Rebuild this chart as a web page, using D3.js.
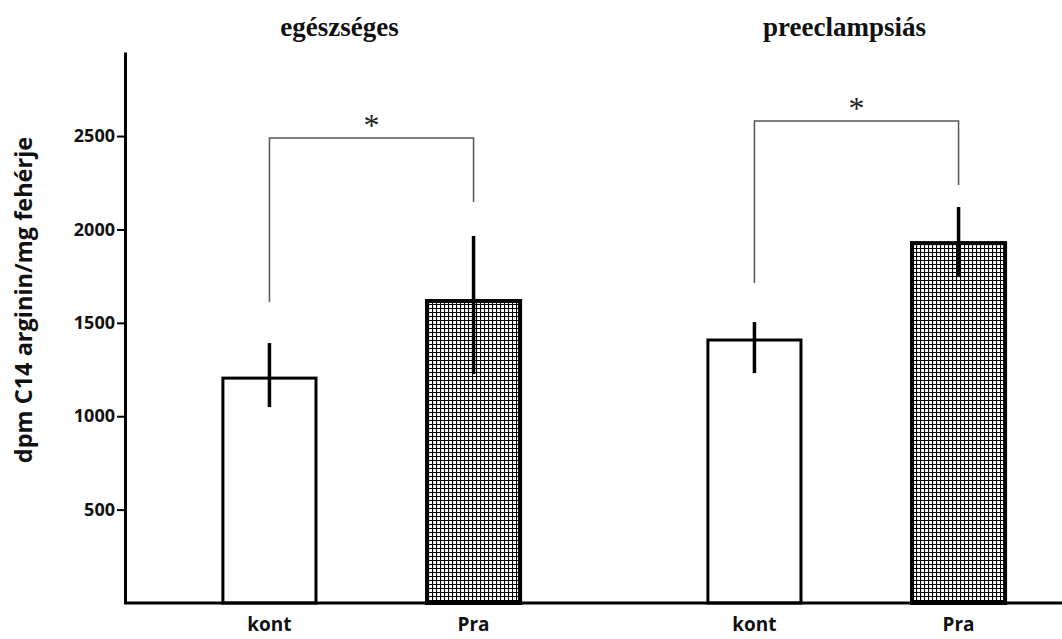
<!DOCTYPE html>
<html>
<head>
<meta charset="utf-8">
<script src="https://cdn.jsdelivr.net/npm/d3@7"></script>
<style>
  body { margin: 0; background: #fff; }
  #plot { width: 1062px; height: 639px; }
  .tick text { font-family: "Open Sans", sans-serif; font-weight: bold; font-size: 18px; fill: #111; }
  .cat-label { font-family: "Open Sans", sans-serif; font-weight: bold; font-size: 19px; fill: #111; }
  .axis-label { font-family: "Open Sans", sans-serif; font-weight: bold; font-size: 23.5px; fill: #111; }
  .group-title { font-family: "Liberation Serif", "Times New Roman", serif; font-weight: bold; font-size: 27px; fill: #111; }
  .star { font-family: "Liberation Serif", serif; font-size: 32px; fill: #222; }
</style>
</head>
<body>
<div id="plot"></div>
<script>
// data
const groups = ["egészséges", "preeclampsiás"];
const conditions = ["kont", "Pra"];
const means    = [1204, 1617, 1408, 1927];
const errHigh  = [1392, 1965, 1504, 2120];
const errLow   = [1049, 1226, 1231, 1745];
// significance brackets, one per group
const bracketTop   = [2489, 2580];
const bracketLeft  = [1611, 1713];   // lower end over "kont"
const bracketRight = [2147, 2238];   // lower end over "Pra"
const yTicks = [500, 1000, 1500, 2000, 2500];

const margin = { top: 52, right: 0, bottom: 36, left: 125 };
const width = 1062, height = 639;

const svg = d3.select('#plot').append('svg')
  .attr('width', width)
  .attr('height', height);

// hatched fill for the Pra bars
const pat = svg.append('defs').append('pattern')
  .attr('id', 'grid')
  .attr('width', 4).attr('height', 4)
  .attr('patternUnits', 'userSpaceOnUse');
pat.append('rect').attr('width', 4).attr('height', 4).attr('fill', '#fff');
pat.append('path')
  .attr('d', 'M0 0.5H4M0.5 0V4')
  .attr('stroke', '#000')
  .attr('stroke-width', 1.2);

const y = d3.scaleLinear().domain([0, 2950]).range([height - margin.bottom, margin.top]);

const xGroup = d3.scaleBand().domain(groups).range([129, 1099]);
const xSub = d3.scaleBand().domain(conditions).range([0, xGroup.bandwidth()])
  .paddingInner(0.544).paddingOuter(0.46);

const rows = means.map((m, i) => ({
  group: groups[Math.floor(i / 2)],
  cond: conditions[i % 2],
  mean: m, hi: errHigh[i], lo: errLow[i]
}));
const cx = d => xGroup(d.group) + xSub(d.cond) + xSub.bandwidth() / 2;

// bars
svg.append('g').selectAll('rect')
  .data(rows)
  .join('rect')
    .attr('x', d => xGroup(d.group) + xSub(d.cond))
    .attr('y', d => y(d.mean))
    .attr('width', xSub.bandwidth())
    .attr('height', d => y(0) - y(d.mean))
    .attr('fill', d => d.cond === 'Pra' ? 'url(#grid)' : '#fff')
    .attr('stroke', '#000')
    .attr('stroke-width', d => d.cond === 'Pra' ? 4 : 3);

// error bars (no caps)
svg.append('g').selectAll('line')
  .data(rows)
  .join('line')
    .attr('x1', cx).attr('x2', cx)
    .attr('y1', d => y(d.lo))
    .attr('y2', d => y(d.hi))
    .attr('stroke', '#000')
    .attr('stroke-width', 3.5);

// y axis
const yAxis = d3.axisLeft(y).tickValues(yTicks).tickFormat(d3.format('d'))
  .tickSize(8).tickSizeOuter(0).tickPadding(2);
const gy = svg.append('g')
  .attr('transform', `translate(${margin.left},0)`)
  .call(yAxis);
gy.select('.domain').attr('stroke', '#000').attr('stroke-width', 3);
gy.selectAll('.tick line').attr('stroke', '#000').attr('stroke-width', 2);

// baseline
svg.append('line')
  .attr('x1', margin.left - 1).attr('x2', width)
  .attr('y1', y(0)).attr('y2', y(0))
  .attr('stroke', '#000')
  .attr('stroke-width', 3);

// category labels
svg.append('g').selectAll('text')
  .data(rows)
  .join('text')
    .attr('class', 'cat-label')
    .attr('x', cx)
    .attr('y', 631)
    .attr('text-anchor', 'middle')
    .text(d => d.cond);

// group titles
svg.append('g').selectAll('text')
  .data(groups)
  .join('text')
    .attr('class', 'group-title')
    .attr('x', (g, i) => xGroup(g) + xGroup.bandwidth() / 2 - (i === 0 ? 32 : 12))
    .attr('y', 36)
    .attr('text-anchor', 'middle')
    .text(g => g);

// significance brackets
const bracket = d3.line();
groups.forEach((g, i) => {
  const xl = xGroup(g) + xSub('kont') + xSub.bandwidth() / 2;
  const xr = xGroup(g) + xSub('Pra') + xSub.bandwidth() / 2;
  svg.append('path')
    .attr('d', bracket([[xl, y(bracketLeft[i])], [xl, y(bracketTop[i])], [xr, y(bracketTop[i])], [xr, y(bracketRight[i])]]))
    .attr('fill', 'none')
    .attr('stroke', '#555')
    .attr('stroke-width', 1.5);
  svg.append('text')
    .attr('class', 'star')
    .attr('x', (xl + xr) / 2)
    .attr('y', y(bracketTop[i]) - 2)
    .attr('text-anchor', 'middle')
    .text('*');
});

// y axis label
svg.append('text')
  .attr('class', 'axis-label')
  .attr('transform', `translate(32, ${300}) rotate(-90)`)
  .attr('text-anchor', 'middle')
  .text('dpm C14 arginin/mg fehérje');
</script>
</body>
</html>
